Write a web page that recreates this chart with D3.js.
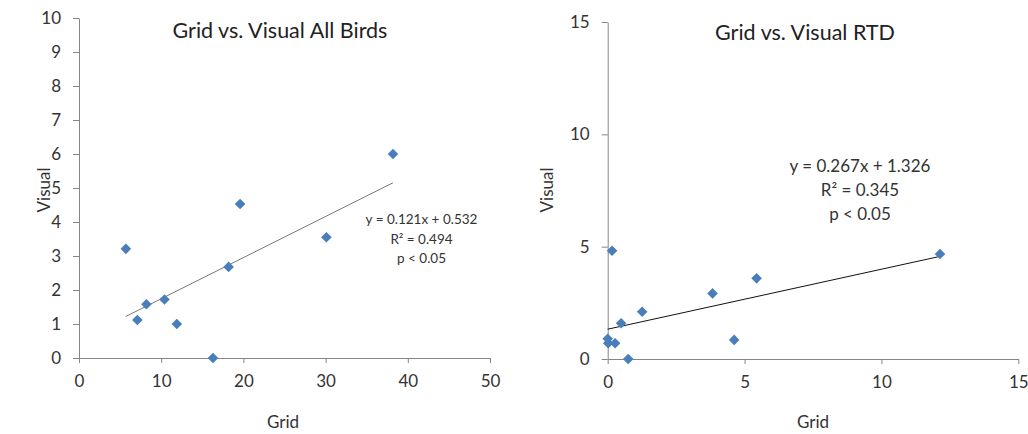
<!DOCTYPE html>
<html>
<head>
<meta charset="utf-8">
<script src="https://cdn.jsdelivr.net/npm/d3@7"></script>
<style>
  body { margin: 0; background: #fff; }
  svg { font-family: Lato, "Open Sans", sans-serif; }
</style>
</head>
<body>
<script>
// all birds: grid vs visual
var allGrid   = [5.7, 7.1, 8.2, 10.4, 11.9, 16.3, 18.2, 19.6, 30.1, 38.2]
var allVisual = [3.21, 1.12, 1.58, 1.72, 1.0, 0, 2.68, 4.53, 3.55, 6.0]
var allFit = { slope: 0.121, intercept: 0.532 }
var allXTicks = [0, 10, 20, 30, 40, 50]
var allYTicks = [0, 1, 2, 3, 4, 5, 6, 7, 8, 9, 10]
var allEq = ["y = 0.121x + 0.532", "R² = 0.494", "p < 0.05"]

// RTD
var rtdGrid   = [0.16, 0, 0.02, 0.27, 0.49, 0.75, 1.26, 3.83, 4.62, 5.44, 12.14]
var rtdVisual = [4.82, 0.9, 0.7, 0.7, 1.59, 0, 2.1, 2.92, 0.85, 3.59, 4.67]
var rtdFit = { slope: 0.267, intercept: 1.326 }
var rtdXTicks = [0, 5, 10, 15]
var rtdYTicks = [0, 5, 10, 15]
var rtdEq = ["y = 0.267x + 1.326", "R² = 0.345", "p < 0.05"]

let svg = d3.select('body')
  .append('svg')
  .attr('width', 1028)
  .attr('height', 434)

function drawChart(opt) {
  let x = d3.scaleLinear().domain(opt.xDomain).range(opt.xRange)
  let y = d3.scaleLinear().domain(opt.yDomain).range(opt.yRange)

  let xAxis = d3.axisBottom(x).tickValues(opt.xTicks).tickSizeInner(5).tickSizeOuter(0).tickPadding(12)
  let yAxis = d3.axisLeft(y).tickValues(opt.yTicks).tickSizeInner(6).tickSizeOuter(0).tickPadding(12)

  let gx = svg.append('g')
    .attr('transform', 'translate(0,' + opt.yRange[0] + ')')
    .call(xAxis)
  let gy = svg.append('g')
    .attr('transform', 'translate(' + opt.xRange[0] + ',0)')
    .call(yAxis)

  ;[gx, gy].forEach(g => {
    g.select('.domain').attr('stroke', '#868686')
    g.selectAll('.tick line').attr('stroke', '#868686')
    g.selectAll('.tick text')
      .attr('fill', '#333')
      .style('font-size', '17px')
      .style('font-family', 'Lato, sans-serif')
  })

  // trend line
  let x0 = opt.fitFrom, x1 = opt.fitTo
  svg.append('line')
    .attr('x1', x(x0)).attr('y1', y(opt.fit.slope * x0 + opt.fit.intercept))
    .attr('x2', x(x1)).attr('y2', y(opt.fit.slope * x1 + opt.fit.intercept))
    .attr('stroke', opt.fitColor)
    .attr('stroke-width', 1)

  let pts = opt.gx.map((g, i) => ({ gx: g, vis: opt.gv[i] }))
  svg.selectAll(null)
    .data(pts)
    .enter()
    .append('path')
    .attr('d', d3.symbol().type(d3.symbolSquare).size(56))
    .attr('transform', d => 'translate(' + x(d.gx) + ',' + y(d.vis) + ') rotate(45)')
    .attr('fill', '#4a7ebb')

  svg.append('text')
    .attr('x', opt.titlePos[0]).attr('y', opt.titlePos[1])
    .attr('text-anchor', 'middle')
    .attr('fill', '#222')
    .style('font-size', '21.5px')
    .text(opt.title)

  svg.append('text')
    .attr('x', opt.xLabelPos[0]).attr('y', opt.xLabelPos[1])
    .attr('text-anchor', 'middle')
    .attr('fill', '#333')
    .style('font-size', '17px')
    .text('Grid')

  svg.append('text')
    .attr('transform', 'translate(' + opt.yLabelPos[0] + ',' + opt.yLabelPos[1] + ') rotate(-90)')
    .attr('text-anchor', 'middle')
    .attr('fill', '#333')
    .style('font-size', '17px')
    .text('Visual')

  let eq = svg.append('text')
    .attr('text-anchor', 'middle')
    .attr('fill', '#333')
    .style('font-size', opt.eqSize)
  opt.eq.forEach((line, i) => {
    eq.append('tspan')
      .attr('x', opt.eqPos[0])
      .attr('y', opt.eqPos[1] + i * opt.eqStep)
      .text(line)
  })
}

drawChart({
  xDomain: [0, 50], yDomain: [0, 10],
  xRange: [79, 490], yRange: [358, 18],
  xTicks: allXTicks, yTicks: allYTicks,
  gx: allGrid, gv: allVisual,
  fit: allFit, fitFrom: 5.7, fitTo: 38.2, fitColor: '#777',
  title: 'Grid vs. Visual All Birds', titlePos: [280, 38],
  xLabelPos: [283, 428], yLabelPos: [50, 190],
  eq: allEq, eqPos: [421.5, 224], eqStep: 19.5, eqSize: '13.5px'
})

drawChart({
  xDomain: [0, 15], yDomain: [0, 15],
  xRange: [607.7, 1018.3], yRange: [359, 22],
  xTicks: rtdXTicks, yTicks: rtdYTicks,
  gx: rtdGrid, gv: rtdVisual,
  fit: rtdFit, fitFrom: 0, fitTo: 12.14, fitColor: '#111',
  title: 'Grid vs. Visual RTD', titlePos: [805, 40],
  xLabelPos: [813, 428], yLabelPos: [553, 190],
  eq: rtdEq, eqPos: [860, 172], eqStep: 24, eqSize: '17px'
})
</script>
</body>
</html>
